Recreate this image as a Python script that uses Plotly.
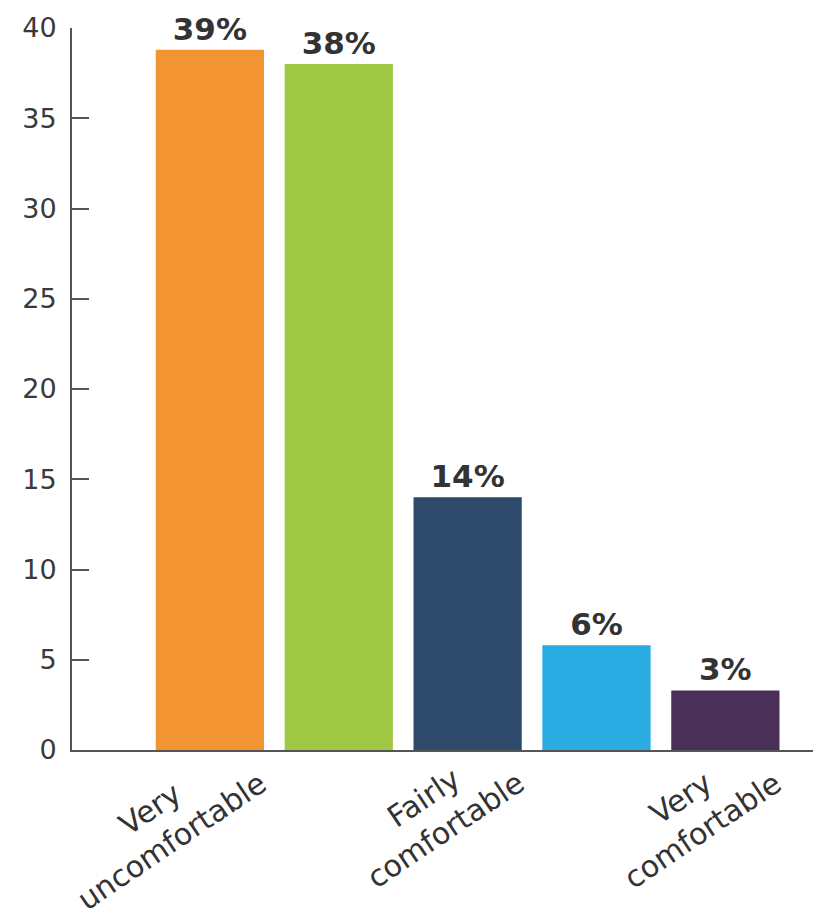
import plotly.graph_objects as go

# Data
positions = [0, 1, 2, 3, 4]
values = [38.8, 38.0, 14.0, 5.8, 3.3]
value_labels = ["39%", "38%", "14%", "6%", "3%"]
category_labels = ["Very<br>uncomfortable", "", "Fairly<br>comfortable", "", "Very<br>comfortable"]
colors = ["#F39433", "#A0C845", "#2E4A6B", "#2AABE2", "#4A3059"]
y_ticks = [0, 5, 10, 15, 20, 25, 30, 35, 40]

FONT = "DejaVu Sans"
TXT = "#333333"

fig = go.Figure(go.Bar(
    x=positions, y=values,
    marker=dict(color=colors, line=dict(width=0)),
    text=value_labels, textposition="outside",
    textfont=dict(family=FONT, size=31, color=TXT, weight="bold"),
    cliponaxis=False,
    width=0.84,
))

for p, lab in zip(positions, category_labels):
    if not lab:
        continue
    fig.add_annotation(
        x=p, xref="x", y=0, yref="paper",
        text=lab, showarrow=False,
        xanchor="right", yanchor="top",
        xshift=65, yshift=20,
        textangle=-34, align="center",
        font=dict(family=FONT, size=30, color=TXT),
    )

fig.update_layout(
    width=834, height=922,
    margin=dict(l=72, r=21, t=20, b=172),
    plot_bgcolor="white", paper_bgcolor="white",
    showlegend=False,
    font=dict(family=FONT, color=TXT),
)
fig.update_xaxes(
    range=[-1.07, 4.68], showgrid=False, zeroline=False,
    showline=True, linecolor="#555555", linewidth=2,
    showticklabels=False, ticks="",
)
fig.update_yaxes(
    range=[0, 40], tickvals=y_ticks, showgrid=False, zeroline=False,
    showline=True, linecolor="#555555", linewidth=2,
    ticks="inside", ticklen=17, tickwidth=1.5, tickcolor="#555555",
    tickfont=dict(family=FONT, size=27, color="#3a3a3a"),
    ticklabelstandoff=8,
)

fig.write_html("out.html")
